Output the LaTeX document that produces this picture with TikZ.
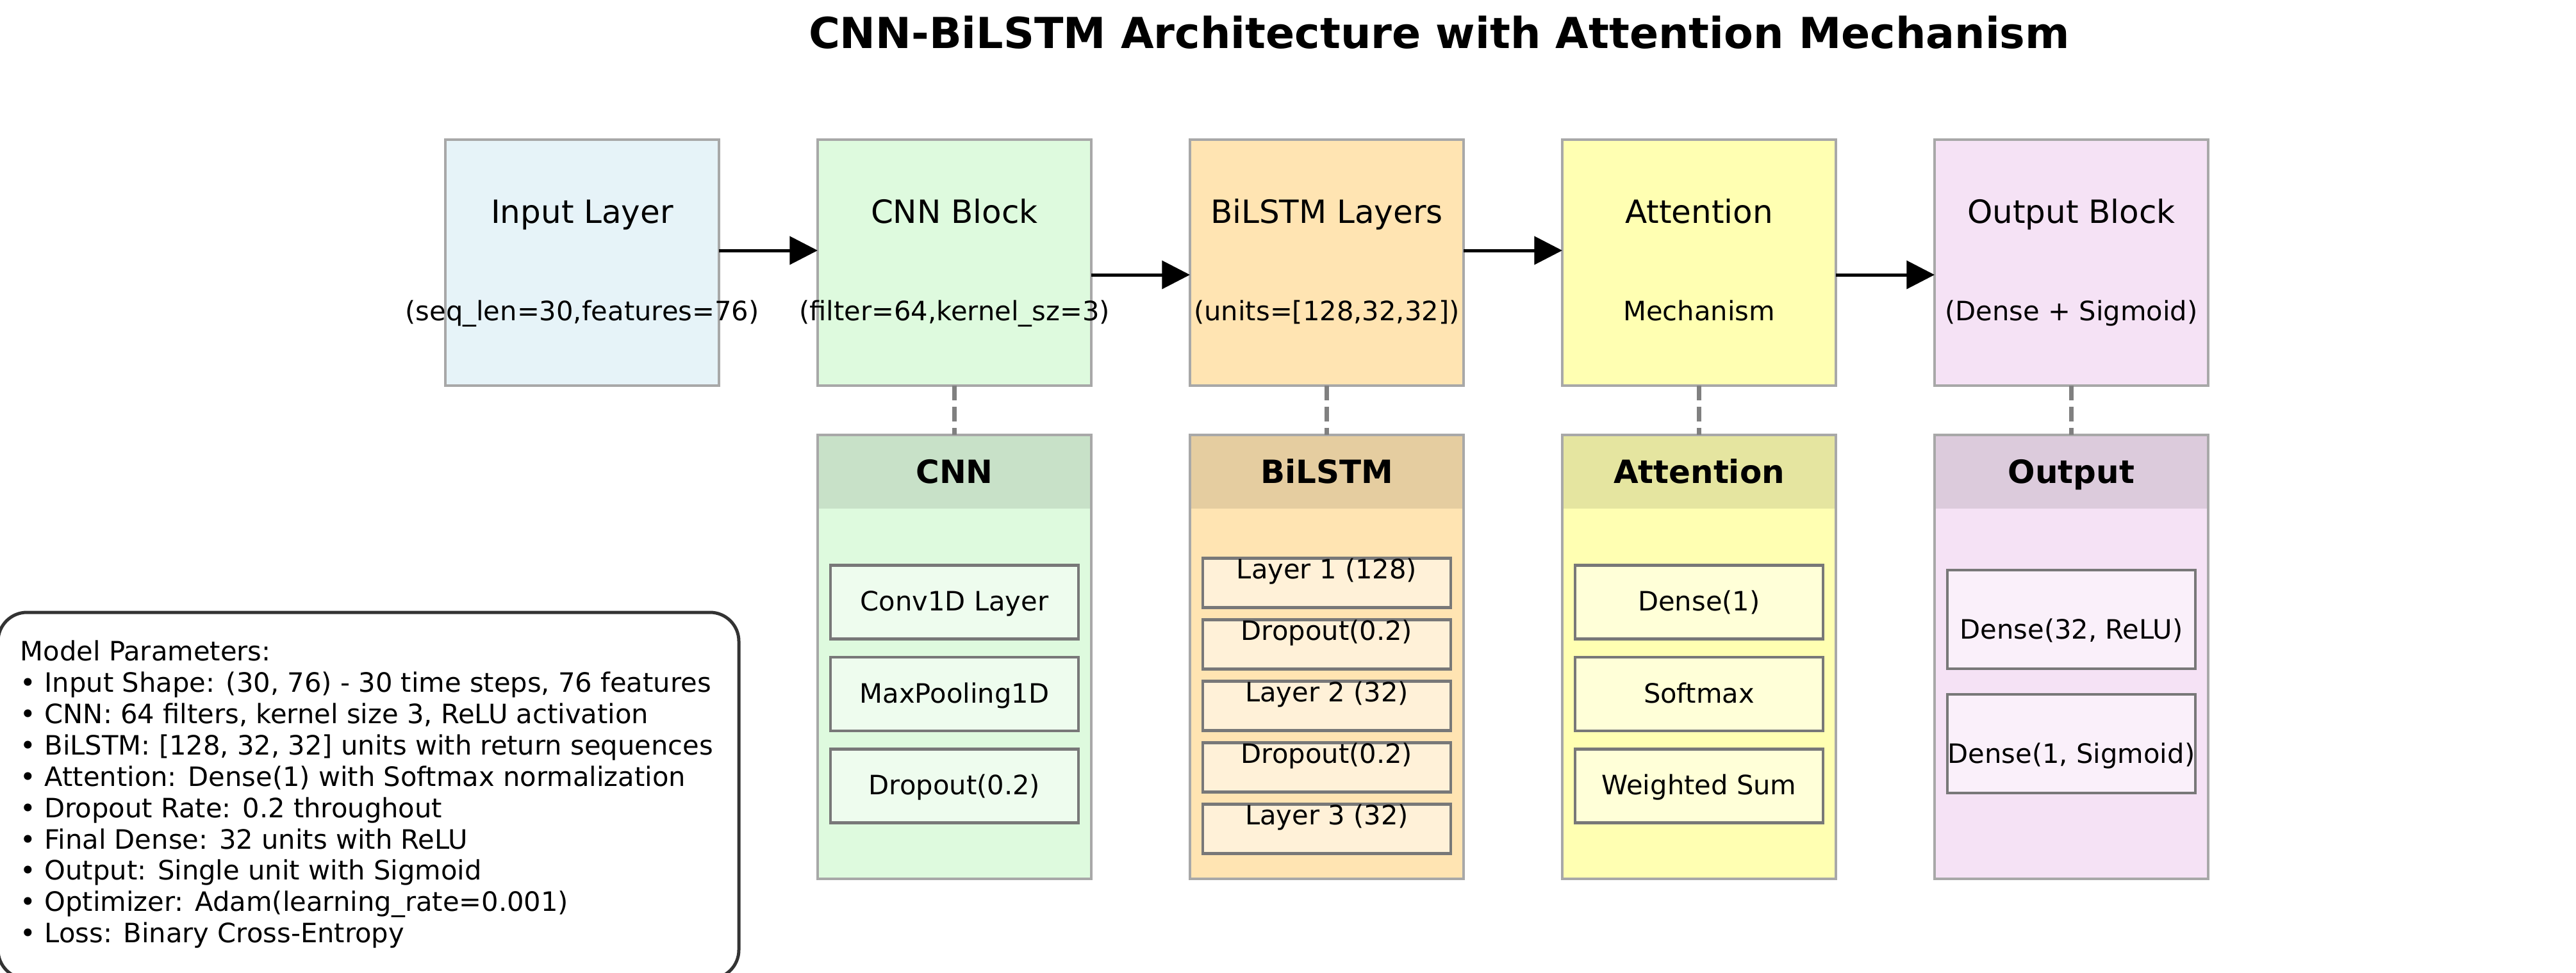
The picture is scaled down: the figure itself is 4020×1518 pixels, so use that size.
\documentclass[tikz,border=0pt]{standalone}
\usepackage{fontspec}
\setmainfont{DejaVu Sans}
\usetikzlibrary{arrows.meta}
\definecolor{inFill}{HTML}{E6F3F8}
\definecolor{cnnFill}{HTML}{DEFADE}
\definecolor{lstmFill}{HTML}{FFE4B2}
\definecolor{attFill}{HTML}{FFFFB2}
\definecolor{outFill}{HTML}{F5E2F5}
\definecolor{cnnHead}{HTML}{C8E1C8}
\definecolor{lstmHead}{HTML}{E5CDA0}
\definecolor{attHead}{HTML}{E5E5A0}
\definecolor{outHead}{HTML}{DCCBDC}
\definecolor{cnnIn}{HTML}{EEFCEE}
\definecolor{lstmIn}{HTML}{FFF1D8}
\definecolor{attIn}{HTML}{FFFFD8}
\definecolor{outIn}{HTML}{FAF0FA}
\definecolor{boxEdge}{HTML}{A8A8A8}
\definecolor{innerEdge}{HTML}{787878}
\definecolor{dashGray}{HTML}{808080}
\definecolor{parEdge}{HTML}{333333}
\begin{document}
\begin{tikzpicture}[x=0.24pt,y=-0.24pt,
  topbox/.style={draw=boxEdge,line width=1pt,outer sep=0pt,inner sep=0pt,minimum width=102.48pt,minimum height=92.16pt},
  detbox/.style={outer sep=0pt,inner sep=0pt,minimum width=102.48pt,minimum height=166.32pt},
  detedge/.style={draw=boxEdge,line width=1pt},
  ibox/.style={draw=innerEdge,line width=1pt,outer sep=0pt,inner sep=0pt,minimum width=92.88pt},
  ttl/.style={inner sep=0pt,font=\fontsize{12}{14.4}\selectfont,text height=9.12pt,text depth=2.88pt},
  subt/.style={inner sep=0pt,font=\fontsize{10}{12}\selectfont,text height=7.6pt,text depth=2.4pt},
  itxt/.style={inner sep=0pt,font=\fontsize{10}{12}\selectfont,text height=7.6pt,text depth=2.4pt},
  hdr/.style={inner sep=0pt,font=\fontsize{12}{14.4}\selectfont\bfseries,text height=9.12pt,text depth=2.88pt},
  flow/.style={line width=1.2pt,-{Triangle[length=10.5pt,width=10.5pt]}},
  dashline/.style={draw=dashGray,line width=1.5pt,dash pattern=on 5.55pt off 2.4pt},
  parbox/.style={draw=parEdge,line width=1.2pt,fill=white,rounded corners=10.8pt}
]
\useasboundingbox (0,0) rectangle (4020,1518);
\clip (0,0) rectangle (4020,1518);

% title
\node[inner sep=0pt,font=\fontsize{16}{19}\selectfont\bfseries,text height=12.16pt,text depth=3.84pt] (title) at (2246,58) {CNN-BiLSTM Architecture with Attention Mechanism};

% top boxes
\node[topbox,fill=inFill] (inp) at (908.5,410) {};
\node[topbox,fill=cnnFill] (cnn) at (1489.5,410) {};
\node[topbox,fill=lstmFill] (lstm) at (2070.5,410) {};
\node[topbox,fill=attFill] (att) at (2651.5,410) {};
\node[topbox,fill=outFill] (out) at (3232.5,410) {};

\node[ttl] (inpT) at (908.5,335) {Input Layer};
\node[subt] (inpS) at (908.5,490) {(seq\_len=30,features=76)};
\node[ttl] (cnnT) at (1489.5,335) {CNN Block};
\node[subt] (cnnS) at (1489.5,490) {(filter=64,kernel\_sz=3)};
\node[ttl] (lstmT) at (2070.5,335) {BiLSTM Layers};
\node[subt] (lstmS) at (2070.5,490) {(units=[128,32,32])};
\node[ttl] (attT) at (2651.5,335) {Attention};
\node[subt] (attS) at (2651.5,490) {Mechanism};
\node[ttl] (outT) at (3232.5,335) {Output Block};
\node[subt] (outS) at (3232.5,490) {(Dense + Sigmoid)};

% arrows
\draw[flow] ([yshift=4.56pt]inp.east) -- ([yshift=4.56pt]cnn.west);
\draw[flow] ([yshift=-4.56pt]cnn.east) -- ([yshift=-4.56pt]lstm.west);
\draw[flow] ([yshift=4.56pt]lstm.east) -- ([yshift=4.56pt]att.west);
\draw[flow] ([yshift=-4.56pt]att.east) -- ([yshift=-4.56pt]out.west);

% detail boxes
\node[detbox,fill=cnnFill] (cnnD) at (1489.5,1025.5) {};
\fill[cnnHead] (cnnD.north west) rectangle ([yshift=-27.6pt]cnnD.north east);
\draw[detedge] (cnnD.north west) rectangle (cnnD.south east);
\node[hdr] (cnnH) at ([yshift=-15pt]cnnD.north) {CNN};

\node[detbox,fill=lstmFill] (lstmD) at (2070.5,1025.5) {};
\fill[lstmHead] (lstmD.north west) rectangle ([yshift=-27.6pt]lstmD.north east);
\draw[detedge] (lstmD.north west) rectangle (lstmD.south east);
\node[hdr] (lstmH) at ([yshift=-15pt]lstmD.north) {BiLSTM};

\node[detbox,fill=attFill] (attD) at (2651.5,1025.5) {};
\fill[attHead] (attD.north west) rectangle ([yshift=-27.6pt]attD.north east);
\draw[detedge] (attD.north west) rectangle (attD.south east);
\node[hdr] (attH) at ([yshift=-15pt]attD.north) {Attention};

\node[detbox,fill=outFill] (outD) at (3232.5,1025.5) {};
\fill[outHead] (outD.north west) rectangle ([yshift=-27.6pt]outD.north east);
\draw[detedge] (outD.north west) rectangle (outD.south east);
\node[hdr] (outH) at ([yshift=-15pt]outD.north) {Output};

% dashed connectors
\draw[dashline] (cnn.south) -- (cnnD.north);
\draw[dashline] (lstm.south) -- (lstmD.north);
\draw[dashline] (att.south) -- (attD.north);
\draw[dashline] (out.south) -- (outD.north);

% CNN inner
\node[ibox,fill=cnnIn,minimum height=27.6pt] (c1) at (1489.5,940) {};
\node[ibox,fill=cnnIn,minimum height=27.6pt] (c2) at (1489.5,1083.5) {};
\node[ibox,fill=cnnIn,minimum height=27.6pt] (c3) at (1489.5,1227) {};
\node[itxt] (c1t) at (1489.5,943) {Conv1D Layer};
\node[itxt] (c2t) at (1489.5,1086.5) {MaxPooling1D};
\node[itxt] (c3t) at (1489.5,1230) {Dropout(0.2)};

% Attention inner
\node[ibox,fill=attIn,minimum height=27.6pt] (a1) at (2651.5,940) {};
\node[ibox,fill=attIn,minimum height=27.6pt] (a2) at (2651.5,1083.5) {};
\node[ibox,fill=attIn,minimum height=27.6pt] (a3) at (2651.5,1227) {};
\node[itxt] (a1t) at (2651.5,943) {Dense(1)};
\node[itxt] (a2t) at (2651.5,1086.5) {Softmax};
\node[itxt] (a3t) at (2651.5,1230) {Weighted Sum};

% BiLSTM inner
\node[ibox,fill=lstmIn,minimum height=18.48pt] (l1) at (2070.5,910) {};
\node[ibox,fill=lstmIn,minimum height=18.48pt] (l2) at (2070.5,1006) {};
\node[ibox,fill=lstmIn,minimum height=18.48pt] (l3) at (2070.5,1102) {};
\node[ibox,fill=lstmIn,minimum height=18.48pt] (l4) at (2070.5,1198) {};
\node[ibox,fill=lstmIn,minimum height=18.48pt] (l5) at (2070.5,1294) {};
\node[itxt] (l1t) at (2070.5,893) {Layer 1 (128)};
\node[itxt] (l2t) at (2070.5,989) {Dropout(0.2)};
\node[itxt] (l3t) at (2070.5,1085) {Layer 2 (32)};
\node[itxt] (l4t) at (2070.5,1181) {Dropout(0.2)};
\node[itxt] (l5t) at (2070.5,1277) {Layer 3 (32)};

% Output inner
\node[ibox,fill=outIn,minimum height=36.96pt] (o1) at (3232.5,967) {};
\node[ibox,fill=outIn,minimum height=36.96pt] (o2) at (3232.5,1161) {};
\node[itxt] (o1t) at (3232.5,987) {Dense(32, ReLU)};
\node[itxt] (o2t) at (3232.5,1181) {Dense(1, Sigmoid)};

% parameters box
\draw[parbox] (-3,956) rectangle (1153,1528);
\node[inner sep=0pt,anchor=north west,align=left,font=\fontsize{10}{11.74}\selectfont] (par) at (31,999) {Model Parameters:\\
• Input Shape: (30, 76) - 30 time steps, 76 features\\
• CNN: 64 filters, kernel size 3, ReLU activation\\
• BiLSTM: [128, 32, 32] units with return sequences\\
• Attention: Dense(1) with Softmax normalization\\
• Dropout Rate: 0.2 throughout\\
• Final Dense: 32 units with ReLU\\
• Output: Single unit with Sigmoid\\
• Optimizer: Adam(learning\_rate=0.001)\\
• Loss: Binary Cross-Entropy};
\end{tikzpicture}
\end{document}
